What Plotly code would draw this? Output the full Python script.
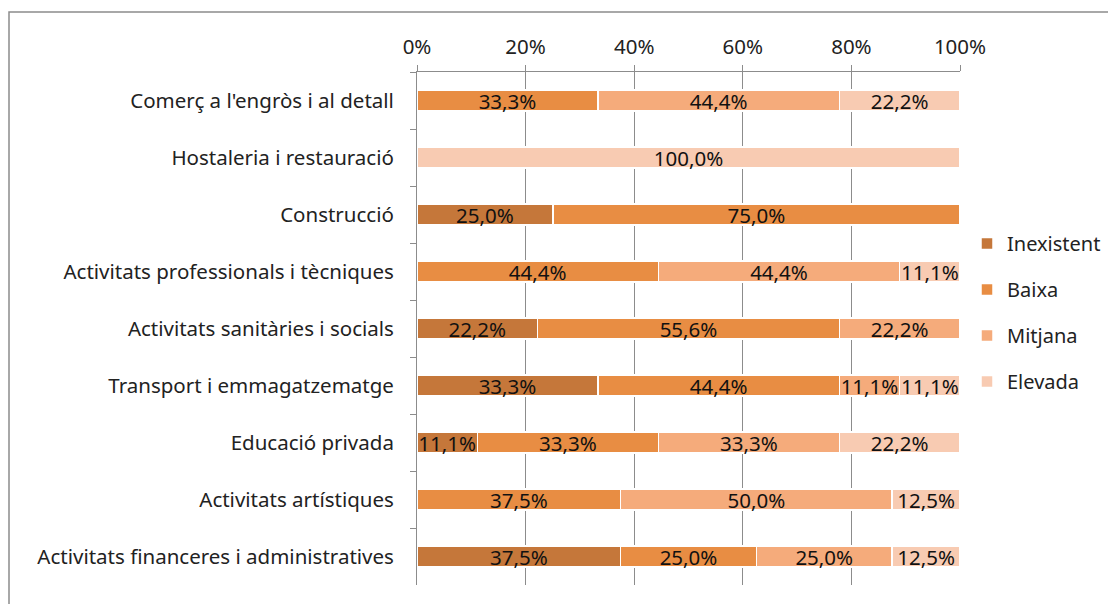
import plotly.graph_objects as go

categories = [
    "Comerç a l'engròs i al detall",
    "Hostaleria i restauració",
    "Construcció",
    "Activitats professionals i tècniques",
    "Activitats sanitàries i socials",
    "Transport i emmagatzematge",
    "Educació privada",
    "Activitats artístiques",
    "Activitats financeres i administratives",
]

inexistent = [None, None, 25.0, None, 22.2, 33.3, 11.1, None, 37.5]
baixa = [33.3, None, 75.0, 44.4, 55.6, 44.4, 33.3, 37.5, 25.0]
mitjana = [44.4, None, None, 44.4, 22.2, 11.1, 33.3, 50.0, 25.0]
elevada = [22.2, 100.0, None, 11.1, None, 11.1, 22.2, 12.5, 12.5]

tick_values = [0, 20, 40, 60, 80, 100]
tick_labels = ["0%", "20%", "40%", "60%", "80%", "100%"]

series = [
    ("Inexistent", inexistent, "#C5773A"),
    ("Baixa", baixa, "#E88D43"),
    ("Mitjana", mitjana, "#F5AB7B"),
    ("Elevada", elevada, "#F8CBB2"),
]

FONT = "'Noto Sans', 'Open Sans', sans-serif"
FS = 20.5

# the page body adds an 8px margin, so the figure is a bit smaller than the window
W, H = 1108, 596
L, R, T, B = 409, 156, 64, 19
PW, PH = W - L - R, H - T - B


def pct(v):
    if v is None:
        return ""
    return f"{v:.1f}".replace(".", ",") + "%"


fig = go.Figure()

for name, vals, color in series:
    fig.add_trace(go.Bar(
        y=categories,
        x=vals,
        name=name,
        orientation="h",
        legendgroup=name,
        marker=dict(color=color, line=dict(color="white", width=1.5)),
        text=[pct(v) for v in vals],
        texttemplate="%{text}",
        textposition="inside",
        insidetextanchor="middle",
        textangle=0,
        constraintext="none",
        textfont=dict(color="#111111", size=FS, family=FONT),
        hoverinfo="skip",
    ))

# outer chart border (runs off the right and bottom edges like the original)
fig.add_shape(type="rect", xref="paper", yref="paper",
              x0=(1 - L) / PW, x1=(W + 20 - L) / PW,
              y0=-(B + 20) / PH, y1=1 + (T - 4) / PH,
              line=dict(color="#8c8c8c", width=1.5), layer="below")

fig.update_layout(
    width=W,
    height=H,
    margin=dict(l=L, r=R, t=T, b=B, autoexpand=False),
    barmode="stack",
    barnorm="percent",
    bargap=0.63,
    plot_bgcolor="white",
    paper_bgcolor="white",
    font=dict(family=FONT, size=FS, color="#222222"),
    showlegend=True,
    legend=dict(
        x=(959 - L) / PW, xanchor="left",
        y=(T + PH - 304.5) / PH, yanchor="middle",
        tracegroupgap=17,
        font=dict(size=20, color="#222222"),
        itemwidth=30,
    ),
    xaxis=dict(
        side="top",
        range=[0, 100],
        tickmode="array",
        tickvals=tick_values,
        ticktext=tick_labels,
        showgrid=True,
        gridcolor="#8c8c8c",
        gridwidth=1,
        showline=True,
        linecolor="#8c8c8c",
        linewidth=1,
        ticks="outside",
        ticklen=6,
        tickcolor="#8c8c8c",
        zeroline=False,
        automargin=False,
        tickfont=dict(size=FS),
        ticklabelstandoff=3,
    ),
    yaxis=dict(
        autorange="reversed",
        showline=True,
        linecolor="#8c8c8c",
        linewidth=1,
        ticks="outside",
        ticklen=6,
        tickcolor="#8c8c8c",
        tickson="boundaries",
        showgrid=False,
        automargin=False,
        tickfont=dict(size=FS),
        ticklabelstandoff=18,
    ),
)

fig.write_html("out.html")
